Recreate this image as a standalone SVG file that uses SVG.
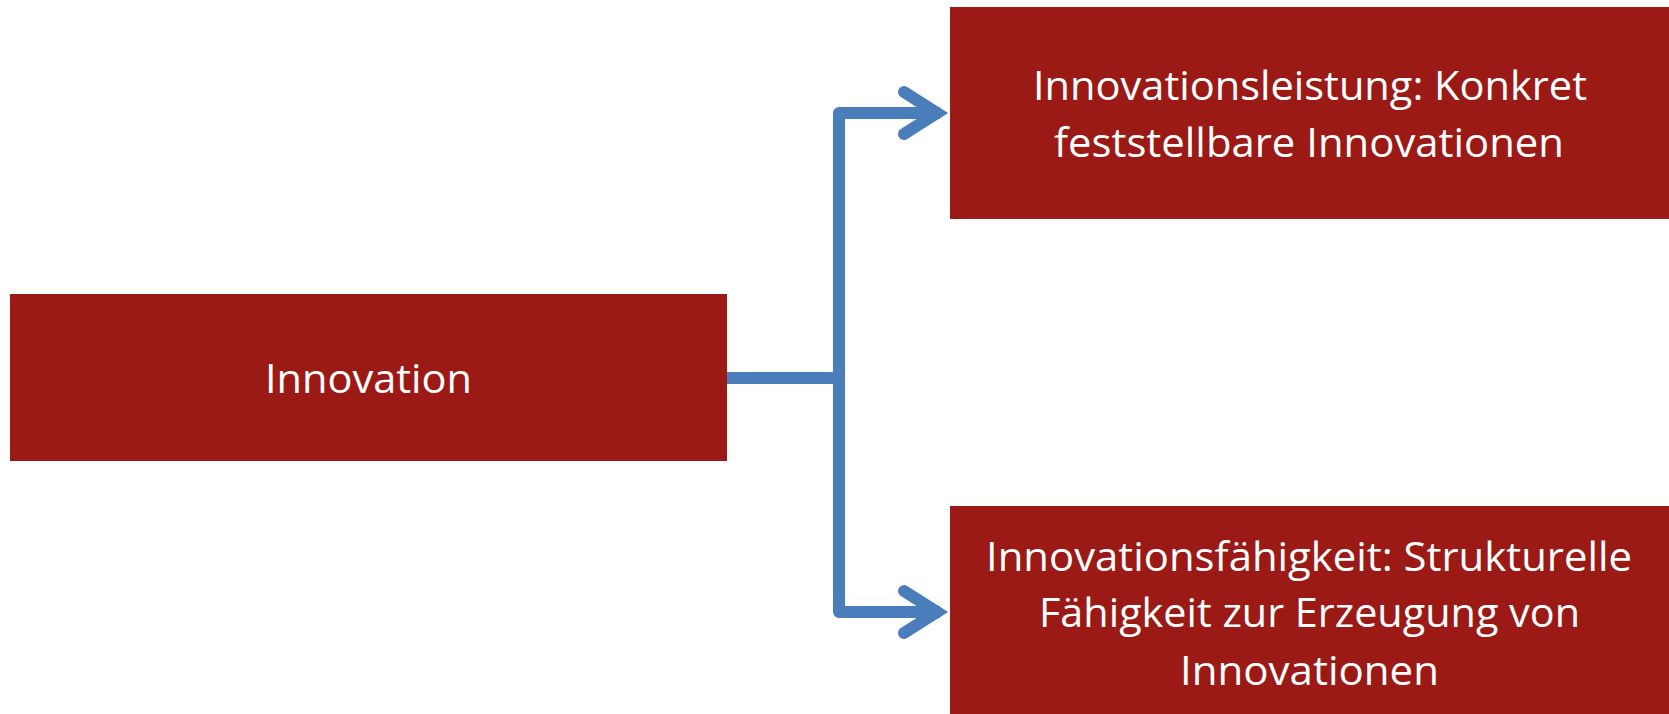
<svg xmlns="http://www.w3.org/2000/svg" width="1669" height="714" viewBox="0 0 1669 714">
<style>
.box{fill:#9B1A16}
.lbl{font-family:"Open Sans","Lato","Liberation Sans",sans-serif;font-size:41px;fill:#ffffff;text-anchor:middle}
.conn{fill:none;stroke:#4A7EBB;stroke-width:12}
</style>
<rect width="1669" height="714" fill="#ffffff"/>
<g id="connectors">
<path class="conn" d="M727 378 H839" stroke-linecap="butt"/>
<path class="conn" d="M940 113 H839 V612 H940" stroke-linejoin="round"/>
<path class="conn" d="M904 92 L937 113 L904 134" stroke-linecap="round" stroke-linejoin="miter" stroke-miterlimit="10"/>
<path class="conn" d="M904 591 L937 612 L904 633" stroke-linecap="round" stroke-linejoin="miter" stroke-miterlimit="10"/>
</g>
<g id="node-innovation">
<rect class="box" x="10" y="294" width="717" height="167"/>
<text class="lbl" x="368.5" y="393" textLength="207" lengthAdjust="spacingAndGlyphs">Innovation</text>
</g>
<g id="node-leistung">
<rect class="box" x="950" y="7" width="719" height="212"/>
<text class="lbl" x="1310" y="100" textLength="554" lengthAdjust="spacingAndGlyphs">Innovationsleistung: Konkret</text>
<text class="lbl" x="1309" y="157" textLength="510" lengthAdjust="spacingAndGlyphs">feststellbare Innovationen</text>
</g>
<g id="node-faehigkeit">
<rect class="box" x="950" y="506" width="719" height="208"/>
<text class="lbl" x="1309" y="571" textLength="646" lengthAdjust="spacingAndGlyphs">Innovationsfähigkeit: Strukturelle</text>
<text class="lbl" x="1309.5" y="627" textLength="541" lengthAdjust="spacingAndGlyphs">Fähigkeit zur Erzeugung von</text>
<text class="lbl" x="1309.5" y="685" textLength="259" lengthAdjust="spacingAndGlyphs">Innovationen</text>
</g>
</svg>
